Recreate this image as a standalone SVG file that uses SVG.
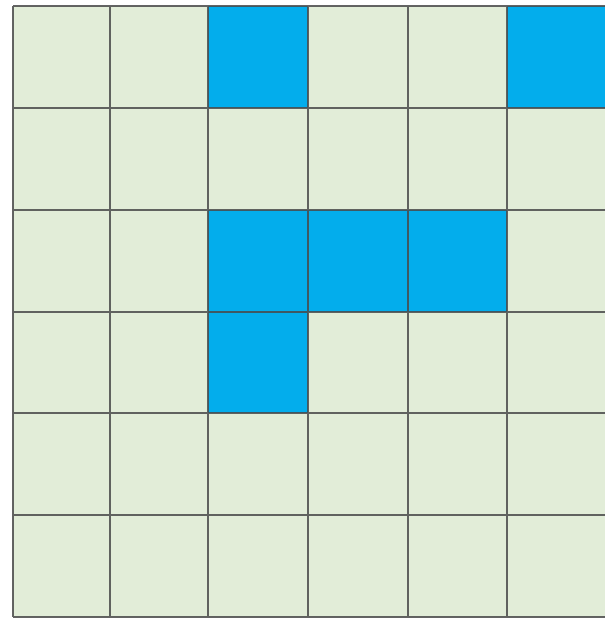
<svg xmlns="http://www.w3.org/2000/svg" width="605" height="620" viewBox="0 0 605 620">
<style>
.c{fill:#e2edd8}
.b{fill:#03adec}
.g{stroke:#4a4a4a;stroke-width:2;fill:none;opacity:0.85}
</style>
<rect width="605" height="620" fill="#ffffff"/>
<g id="grid-bg"><rect class="c" x="13" y="6" width="592" height="611"/></g>
<g id="cells">
<rect id="cell-0-2" class="b" x="208" y="6" width="100" height="102"/>
<rect id="cell-0-5" class="b" x="507" y="6" width="98" height="102"/>
<rect id="cell-2-2" class="b" x="208" y="210" width="100" height="102"/>
<rect id="cell-2-3" class="b" x="308" y="210" width="100" height="102"/>
<rect id="cell-2-4" class="b" x="408" y="210" width="99" height="102"/>
<rect id="cell-3-2" class="b" x="208" y="312" width="100" height="101"/>
</g>
<g id="lines" class="g">
<path d="M13 6V617M110 6V617M208 6V617M308 6V617M408 6V617M507 6V617"/>
<path d="M13 6H605M13 108H605M13 210H605M13 312H605M13 413H605M13 515H605M13 617H605"/>
</g>
</svg>
